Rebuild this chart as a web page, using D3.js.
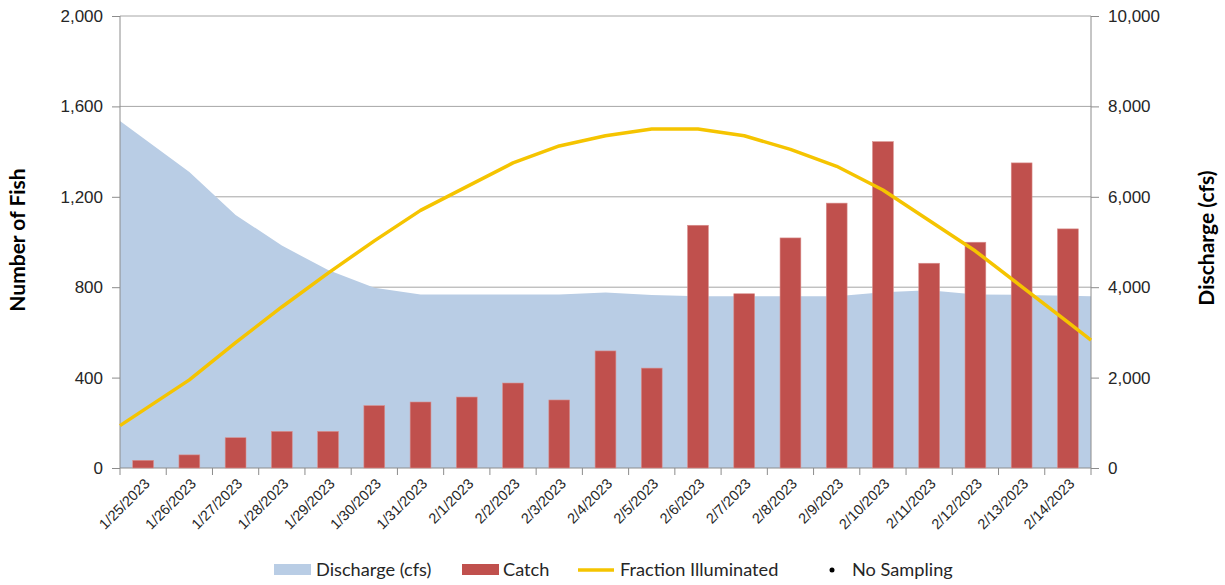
<!DOCTYPE html>
<html>
<head>
<meta charset="utf-8">
<script src="https://cdn.jsdelivr.net/npm/d3@7"></script>
<style>
  body { margin: 0; background: #fff; }
  svg { font-family: Lato, "Open Sans", sans-serif; }
  .axis path { display: none; }
  .axis line { stroke: #8c8c8c; }
  .axis text { fill: #262626; font-size: 17px; }
  .xaxis text { font-size: 14.5px; }
</style>
</head>
<body>
<div class="result"></div>
<script>
// Categories (sampling dates)
const dates = ['1/25/2023', '1/26/2023', '1/27/2023', '1/28/2023', '1/29/2023', '1/30/2023', '1/31/2023',
  '2/1/2023', '2/2/2023', '2/3/2023', '2/4/2023', '2/5/2023', '2/6/2023', '2/7/2023', '2/8/2023',
  '2/9/2023', '2/10/2023', '2/11/2023', '2/12/2023', '2/13/2023', '2/14/2023'];

// Catch (number of fish, left axis)
const catchCount = [34, 58, 134, 162, 162, 276, 292, 314, 376, 301, 518, 442,
  1074, 771, 1018, 1172, 1444, 906, 999, 1350, 1058];

// Discharge (cfs, right axis)
const discharge = [7300, 6550, 5600, 4920, 4380, 3990, 3840, 3840, 3840, 3840, 3880, 3830,
  3800, 3800, 3800, 3800, 3890, 3930, 3840, 3830, 3810];

// Moon fraction illuminated (0-1), drawn so that 1.0 sits at 1,500 on the fish axis
const illum = [0.17, 0.26, 0.37, 0.475, 0.575, 0.67, 0.76, 0.83, 0.90, 0.95, 0.98, 1.0,
  1.0, 0.98, 0.94, 0.89, 0.82, 0.73, 0.64, 0.535, 0.43];
const illumFull = 1500;

const fishTicks = [0, 400, 800, 1200, 1600, 2000];
const dischargeTicks = [0, 2000, 4000, 6000, 8000, 10000];

// Width and height
const w = 1225;
const h = 585;
const padLeft = 120, padRight = 1091, padTop = 16, padBottom = 468;

const svg = d3.select('.result')
  .append('svg')
  .attr('width', w)
  .attr('height', h);

// Scales
const xScale = d3.scaleBand().domain(dates).range([padLeft, padRight]).padding(0);
const bw = xScale.bandwidth();
const cx = d => xScale(d) + bw / 2;
const yScale = d3.scaleLinear().domain([0, 2000]).range([padBottom, padTop]);
const y2Scale = d3.scaleLinear().domain([0, 10000]).range([padBottom, padTop]);
const yIllum = d3.scaleLinear().domain([0, 1]).range([padBottom, yScale(illumFull)]);

// Gridlines
svg.append('g')
  .selectAll('line')
  .data(fishTicks.slice(1))
  .enter()
  .append('line')
  .attr('x1', padLeft).attr('x2', padRight)
  .attr('y1', d => yScale(d)).attr('y2', d => yScale(d))
  .attr('stroke', '#a6a6a6')
  .attr('stroke-width', 1);

// Points at category centres, stretched half a category to each plot edge
function edgePoints(values) {
  const n = values.length;
  const pts = values.map((v, i) => [cx(dates[i]), v]);
  const first = [padLeft, values[0] - (values[1] - values[0]) / 2];
  const last = [padRight, values[n - 1] + (values[n - 1] - values[n - 2]) / 2];
  return [first].concat(pts, [last]);
}

// Discharge area
const area = d3.area()
  .x(d => d[0])
  .y0(padBottom)
  .y1(d => y2Scale(d[1]));
svg.append('path')
  .datum(edgePoints(discharge))
  .attr('d', area)
  .attr('fill', '#b9cde5');

// Left axis
svg.append('g')
  .attr('class', 'axis')
  .attr('transform', 'translate(' + padLeft + ',0)')
  .call(d3.axisLeft(yScale).tickValues(fishTicks).tickFormat(d3.format(',')).tickSize(8).tickPadding(9));

// Right axis
svg.append('g')
  .attr('class', 'axis')
  .attr('transform', 'translate(' + padRight + ',0)')
  .call(d3.axisRight(y2Scale).tickValues(dischargeTicks).tickFormat(d3.format(',')).tickSize(8).tickPadding(9));

// Axis lines
svg.append('line').attr('x1', padLeft).attr('x2', padLeft).attr('y1', padTop).attr('y2', padBottom).attr('stroke', '#8c8c8c');
svg.append('line').attr('x1', padRight).attr('x2', padRight).attr('y1', padTop).attr('y2', padBottom).attr('stroke', '#8c8c8c');
svg.append('line').attr('x1', padLeft).attr('x2', padRight).attr('y1', padBottom).attr('y2', padBottom).attr('stroke', '#8c8c8c');

// Category boundary ticks
svg.append('g')
  .selectAll('line')
  .data(d3.range(dates.length + 1))
  .enter()
  .append('line')
  .attr('x1', i => padLeft + i * bw).attr('x2', i => padLeft + i * bw)
  .attr('y1', padBottom).attr('y2', padBottom + 7)
  .attr('stroke', '#8c8c8c');

// X axis labels
const xAxisG = svg.append('g')
  .attr('class', 'axis xaxis')
  .attr('transform', 'translate(0,' + padBottom + ')')
  .call(d3.axisBottom(xScale).tickSize(0));
xAxisG.selectAll('text')
  .attr('x', null)
  .attr('y', null)
  .attr('dy', '0.35em')
  .attr('transform', 'translate(4,13) rotate(-45)')
  .style('text-anchor', 'end');

// Catch bars
const barW = bw * 0.45;
svg.append('g')
  .selectAll('rect')
  .data(catchCount)
  .enter()
  .append('rect')
  .attr('x', (d, i) => cx(dates[i]) - barW / 2)
  .attr('y', d => yScale(d))
  .attr('width', barW)
  .attr('height', d => padBottom - yScale(d))
  .attr('fill', '#c0504d')
  .attr('stroke', '#d98f8d')
  .attr('stroke-width', 0.6);

// Fraction illuminated line
const line = d3.line()
  .x(d => d[0])
  .y(d => yIllum(d[1]));
svg.append('path')
  .datum(edgePoints(illum))
  .attr('d', line)
  .attr('fill', 'none')
  .attr('stroke', '#f5c400')
  .attr('stroke-width', 3.5)
  .attr('stroke-linejoin', 'round');

// Axis titles
svg.append('text')
  .attr('transform', 'translate(25,240) rotate(-90)')
  .attr('text-anchor', 'middle')
  .style('font-size', '21px')
  .style('font-weight', 'bold')
  .attr('fill', '#000')
  .text('Number of Fish');
svg.append('text')
  .attr('transform', 'translate(1214,238) rotate(-90)')
  .attr('text-anchor', 'middle')
  .style('font-size', '21px')
  .style('font-weight', 'bold')
  .attr('fill', '#000')
  .text('Discharge (cfs)');

// Legend
const legendY = 570;
const legend = svg.append('g').style('font-size', '18.2px').attr('fill', '#262626');
legend.append('rect').attr('x', 274).attr('y', legendY - 6).attr('width', 37).attr('height', 11).attr('fill', '#b9cde5');
legend.append('text').attr('x', 316).attr('y', legendY).attr('dy', '0.35em').text('Discharge (cfs)');
legend.append('rect').attr('x', 462).attr('y', legendY - 6).attr('width', 37).attr('height', 11).attr('fill', '#c0504d');
legend.append('text').attr('x', 503).attr('y', legendY).attr('dy', '0.35em').text('Catch');
legend.append('line').attr('x1', 578).attr('x2', 614).attr('y1', legendY).attr('y2', legendY)
  .attr('stroke', '#f5c400').attr('stroke-width', 3.5);
legend.append('text').attr('x', 620).attr('y', legendY).attr('dy', '0.35em').text('Fraction Illuminated');
legend.append('circle').attr('cx', 832).attr('cy', legendY).attr('r', 2.5).attr('fill', '#000');
legend.append('text').attr('x', 852).attr('y', legendY).attr('dy', '0.35em').text('No Sampling');
</script>
</body>
</html>
